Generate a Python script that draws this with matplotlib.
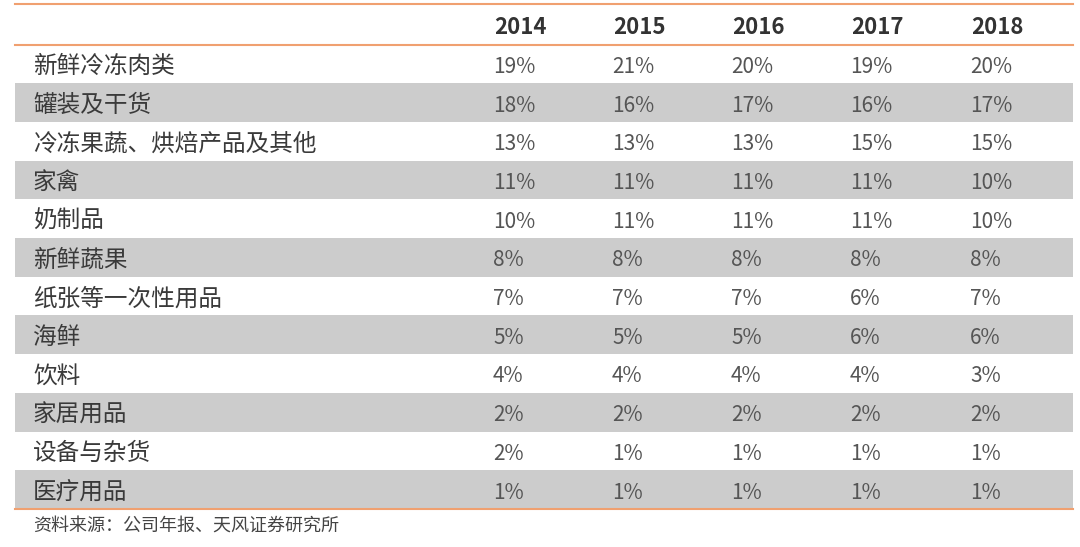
import matplotlib
matplotlib.use("Agg")
import matplotlib.pyplot as plt
from matplotlib.patches import Rectangle

plt.rcParams["font.family"] = ["Noto Sans CJK SC", "DejaVu Sans"]

years = ["2014", "2015", "2016", "2017", "2018"]
categories = ["新鲜冷冻肉类", "罐装及干货", "冷冻果蔬、烘焙产品及其他", "家禽", "奶制品",
              "新鲜蔬果", "纸张等一次性用品", "海鲜", "饮料", "家居用品", "设备与杂货", "医疗用品"]
values = [
    [19, 21, 20, 19, 20],
    [18, 16, 17, 16, 17],
    [13, 13, 13, 15, 15],
    [11, 11, 11, 11, 10],
    [10, 11, 11, 11, 10],
    [8, 8, 8, 8, 8],
    [7, 7, 7, 6, 7],
    [5, 5, 5, 6, 6],
    [4, 4, 4, 4, 3],
    [2, 2, 2, 2, 2],
    [2, 1, 1, 1, 1],
    [1, 1, 1, 1, 1],
]
source = "资料来源：公司年报、天风证券研究所"

W, H = 1080, 547
fig = plt.figure(figsize=(W / 100, H / 100), dpi=100)
ax = fig.add_axes([0, 0, 1, 1])
ax.set_xlim(0, W)
ax.set_ylim(H, 0)
ax.axis("off")

orange = "#f0a070"
x0, x1 = 15, 1073
top, head_bot = 4, 44.5
row_h = 38.7
col_x = [493, 612, 731, 850, 970]
dy = 3  # CJK font sits a little high

for i, cat in enumerate(categories):
    y = head_bot + i * row_h
    if i % 2 == 1:
        ax.add_patch(Rectangle((x0, y), x1 - x0, row_h, color="#cccccc", lw=0))
    yc = y + row_h / 2 + dy
    ax.text(33, yc, cat, fontsize=17, color="#3a3a3a", va="center", ha="left")
    for x, v in zip(col_x, values[i]):
        ax.text(x, yc, f"{v}%", fontsize=15, color="#555555", va="center", ha="left")

for x, yr in zip(col_x, years):
    ax.text(x + 27, (top + head_bot) / 2 + dy, yr, fontsize=16, fontweight="bold",
            color="#333333", va="center", ha="center")

bottom = head_bot + len(categories) * row_h
for y in (top, head_bot, bottom):
    ax.plot([x0, x1], [y, y], color=orange, lw=1.5)

ax.text(33, 527, source, fontsize=13, color="#444444", va="center", ha="left")

fig.savefig("out.png", dpi=100)
